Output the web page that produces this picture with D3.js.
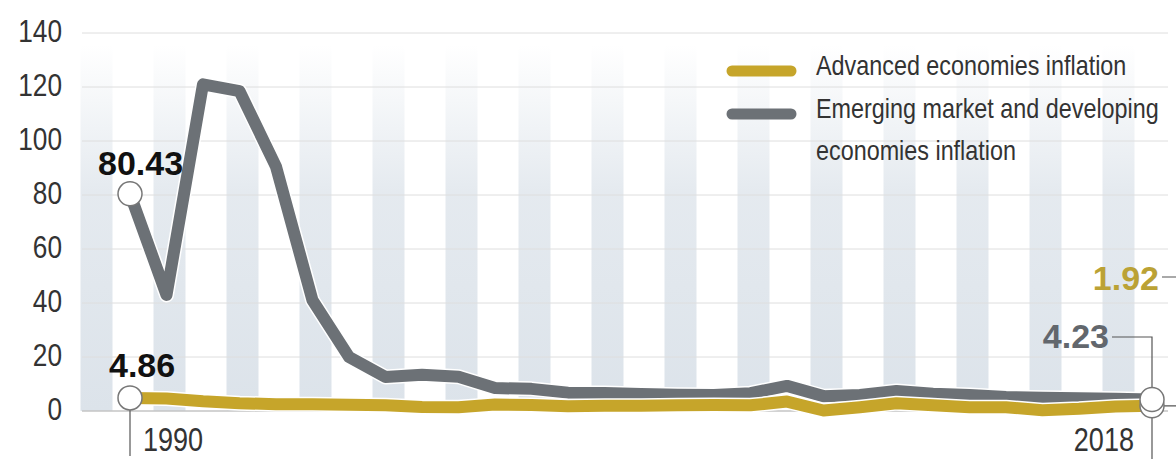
<!DOCTYPE html>
<html>
  <head>
    <meta charset="UTF-8">
    <style>
      body {
        margin: 0;
        background: #fff;
      }

      svg {
        display: block;
      }

      .tick-label {
        font-family: 'Liberation Sans', Arial, sans-serif;
        font-size: 32px;
        fill: #333;
      }

      .legend-label {
        font-family: 'Liberation Sans', Arial, sans-serif;
        font-size: 28.5px;
        fill: #333;
      }

      .note {
        font-family: 'Liberation Sans', Arial, sans-serif;
        font-weight: bold;
        font-size: 34px;
      }
    </style>
    <script src="https://d3js.org/d3.v7.min.js"></script>
  </head>

  <body>
    <svg id="chart"></svg>

    <script type="text/javascript">
      const years = [1990, 1991, 1992, 1993, 1994, 1995, 1996, 1997, 1998, 1999,
        2000, 2001, 2002, 2003, 2004, 2005, 2006, 2007, 2008, 2009,
        2010, 2011, 2012, 2013, 2014, 2015, 2016, 2017, 2018]

      const advanced = [4.86, 4.6, 3.6, 2.9, 2.5, 2.5, 2.3, 2.1, 1.5, 1.4,
        2.4, 2.2, 1.8, 1.9, 1.9, 2.1, 2.2, 2.1, 3.5, 0.2,
        1.4, 2.9, 2.1, 1.4, 1.4, 0.3, 0.8, 1.7, 1.92]

      const emerging = [80.43, 43, 121, 118.5, 90.5, 41, 20, 12.6, 13.4, 12.7,
        8.5, 8.2, 6.8, 6.7, 6.3, 6.0, 5.9, 6.6, 9.3, 5.5,
        5.9, 7.4, 6.4, 5.9, 5.2, 4.9, 4.7, 4.5, 4.23]

      const stripeYears = [1989, 1991, 1993, 1995, 1997, 1999, 2001, 2003,
        2005, 2007, 2009, 2011, 2013, 2015, 2017]

      const yTicks = [0, 20, 40, 60, 80, 100, 120, 140]

      const seriesNames = ['Advanced economies inflation', 'Emerging market and developing economies inflation']
      const legendLines = [['Advanced economies inflation'], ['Emerging market and developing', 'economies inflation']]

      const gold = '#c6a52a'
      const grey = '#6c7176'
      const narrow = 0.82   // squeeze regular Liberation Sans to a narrow face

      function getConfig() {
        let width = 1176
        let height = 459
        let margin = {top: 33, bottom: 48, left: 82, right: 8}
        let container = d3.select('#chart')
          .attr('width', width)
          .attr('height', height)
        return {width, height, margin, container}
      }

      function getScales(config) {
        let {height, margin} = config
        let xScale = d3.scaleLinear()
          .domain([1990, 2018])
          .range([130, 1152])
        let yScale = d3.scaleLinear()
          .domain([0, 140])
          .range([height - margin.bottom, margin.top])
        return {xScale, yScale}
      }

      function narrowText(sel, x, y) {
        return sel.attr('transform', `translate(${x},${y}) scale(${narrow},1)`)
      }

      function drawBackground(scales, config) {
        let {xScale, yScale} = scales
        let {container, width, margin} = config

        let defs = container.append('defs')
        let grad = defs.append('linearGradient')
          .attr('id', 'stripe-fade')
          .attr('gradientUnits', 'userSpaceOnUse')
          .attr('x1', 0).attr('x2', 0)
          .attr('y1', 45).attr('y2', yScale(0))
        grad.append('stop').attr('offset', 0).attr('stop-color', '#dce3ea').attr('stop-opacity', 0)
        grad.append('stop').attr('offset', 0.4).attr('stop-color', '#dce3ea').attr('stop-opacity', 0.75)
        grad.append('stop').attr('offset', 1).attr('stop-color', '#dce3ea').attr('stop-opacity', 1)

        let stripeW = xScale(1991) - xScale(1990) - 4.5
        container.append('g')
          .selectAll('rect')
          .data(stripeYears)
          .enter()
          .append('rect')
          .attr('x', d => xScale(d) - stripeW / 2 + 3)
          .attr('y', 45)
          .attr('width', stripeW)
          .attr('height', yScale(0) - 45)
          .attr('fill', 'url(#stripe-fade)')

        let grid = container.append('g')
        grid.selectAll('line')
          .data(yTicks)
          .enter()
          .append('line')
          .attr('x1', margin.left)
          .attr('x2', width - margin.right)
          .attr('y1', d => yScale(d))
          .attr('y2', d => yScale(d))
          .attr('stroke', d => d == 0 ? '#c4c4c4' : '#dedede')
          .attr('stroke-width', d => d == 0 ? 1.5 : 1)

        grid.selectAll('text')
          .data(yTicks)
          .enter()
          .append('text')
          .attr('class', 'tick-label')
          .attr('text-anchor', 'end')
          .each(function(d) { narrowText(d3.select(this), 62, yScale(d) + 9) })
          .text(d => d)
      }

      function drawLines(scales, config) {
        let {xScale, yScale} = scales
        let {container} = config

        let line = d3.line()
          .x(d => xScale(d.year))
          .y(d => yScale(d.value))

        let series = [
          {values: emerging, color: grey},
          {values: advanced, color: gold}
        ]

        series.forEach(s => {
          let pts = years.map((y, i) => ({year: y, value: s.values[i]}))
          container.append('path')
            .attr('d', line(pts))
            .attr('fill', 'none')
            .attr('stroke', '#fff')
            .attr('stroke-width', 15)
            .attr('stroke-linejoin', 'round')
          container.append('path')
            .attr('d', line(pts))
            .attr('fill', 'none')
            .attr('stroke', s.color)
            .attr('stroke-width', 12)
            .attr('stroke-linejoin', 'round')
        })
      }

      function drawNotes(scales, config) {
        let {xScale, yScale} = scales
        let {container} = config
        let last = years.length - 1
        let x0 = xScale(years[0])
        let x1 = xScale(years[last])

        // leader lines
        container.append('line')
          .attr('x1', x0).attr('x2', x0)
          .attr('y1', yScale(advanced[0])).attr('y2', 456)
          .attr('stroke', '#555').attr('stroke-width', 1.2)

        container.append('path')
          .attr('d', `M${x1},462 V337 H1112`)
          .attr('fill', 'none')
          .attr('stroke', '#555').attr('stroke-width', 1.2)

        container.append('path')
          .attr('d', `M${x1},${yScale(advanced[last])} H1182 V277 H1162`)
          .attr('fill', 'none')
          .attr('stroke', '#555').attr('stroke-width', 1.2)

        let circles = [
          {x: x0, y: yScale(emerging[0])},
          {x: x0, y: yScale(advanced[0])},
          {x: x1, y: yScale(advanced[last])},
          {x: x1, y: yScale(emerging[last])}
        ]
        container.append('g')
          .selectAll('circle')
          .data(circles)
          .enter()
          .append('circle')
          .attr('cx', d => d.x)
          .attr('cy', d => d.y)
          .attr('r', 12)
          .attr('fill', '#fff')
          .attr('stroke', '#777')
          .attr('stroke-width', 1.5)

        container.append('text').attr('class', 'note')
          .attr('x', 98).attr('y', 175).attr('fill', '#111')
          .text(emerging[0].toFixed(2))
        container.append('text').attr('class', 'note')
          .attr('x', 109).attr('y', 377).attr('fill', '#111')
          .text(advanced[0].toFixed(2))
        container.append('text').attr('class', 'note')
          .attr('x', 1159).attr('y', 290).attr('fill', '#bba235')
          .attr('text-anchor', 'end')
          .text(advanced[last].toFixed(2))
        container.append('text').attr('class', 'note')
          .attr('x', 1109).attr('y', 348).attr('fill', '#62676d')
          .attr('text-anchor', 'end')
          .text(emerging[last].toFixed(2))

        container.append('text').attr('class', 'tick-label')
          .style('font-size', '33px')
          .call(narrowText, 143, 451)
          .text(years[0])
        container.append('text').attr('class', 'tick-label')
          .style('font-size', '33px')
          .attr('text-anchor', 'end')
          .call(narrowText, 1134, 451)
          .text(years[last])
      }

      function drawLegend(config) {
        let {container} = config
        let colors = [gold, grey]
        let rows = [71, 114]

        let legend = container.selectAll('.legend')
          .data(seriesNames)
          .enter()
          .append('g')
          .attr('class', 'legend')
          .attr('transform', (d, i) => `translate(0, ${rows[i]})`)

        legend.append('line')
          .attr('x1', 732).attr('x2', 791)
          .attr('y1', 0).attr('y2', 0)
          .attr('stroke', (d, i) => colors[i])
          .attr('stroke-width', 11)
          .attr('stroke-linecap', 'round')

        legend.each(function(d, i) {
          let g = d3.select(this)
          legendLines[i].forEach((t, j) => {
            g.append('text')
              .attr('class', 'legend-label')
              .call(narrowText, 816, 4 + j * 42)
              .text(t)
          })
        })
      }

      let config = getConfig()
      let scales = getScales(config)
      drawBackground(scales, config)
      drawLines(scales, config)
      drawNotes(scales, config)
      drawLegend(config)
    </script>
  </body>
</html>
